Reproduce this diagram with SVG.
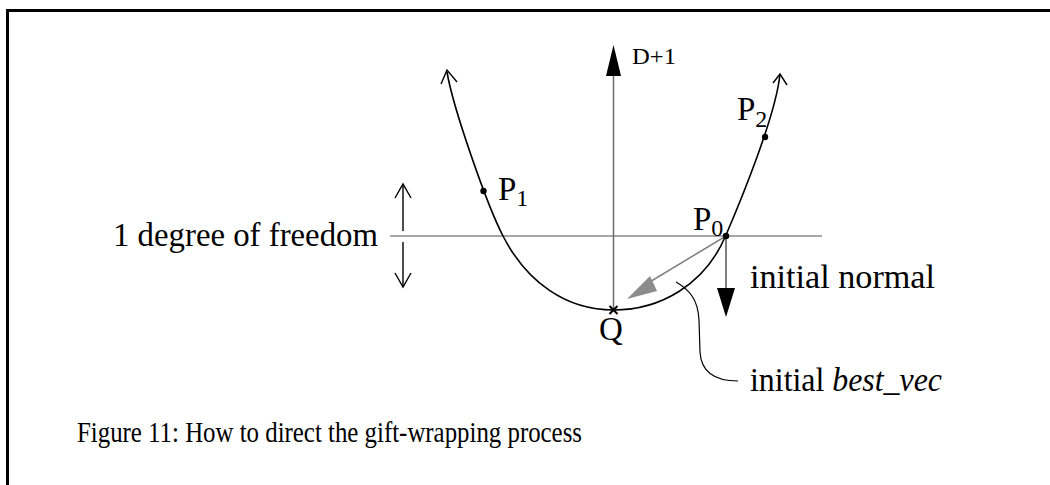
<svg xmlns="http://www.w3.org/2000/svg" width="1050" height="485" viewBox="0 0 1050 485">
<style>
text{font-family:"Liberation Serif","Times New Roman",serif;fill:#000}
.lbl{font-size:33px}
.sub{font-size:24px}
.cap{font-size:30px}
.small{font-size:23px}
.curve{fill:none;stroke:#000;stroke-width:1.6}
.open{fill:none;stroke:#000;stroke-width:1.4}
</style>
<rect x="7.5" y="10.5" width="1100" height="600" fill="#fff" stroke="#000" stroke-width="3"/>
<g id="connectors">
<line x1="390" y1="236" x2="822" y2="236" stroke="#8a8a8a" stroke-width="1.6"/>
<line x1="613.5" y1="74" x2="613.5" y2="310" stroke="#6a6a6a" stroke-width="1.5"/>
<polygon points="613.5,45 606,76 621,76" fill="#000"/>
<line x1="403" y1="184" x2="403" y2="231" class="open"/>
<line x1="403" y1="242" x2="403" y2="287" class="open"/>
<polyline points="395,198 403,184 411,198" class="open"/>
<polyline points="395,273 403,287 411,273" class="open"/>
<path class="curve" d="M447,72 C453,108 487,205 503,236 C527,282.5 566,310 613.5,310 C660,310 705,285 726,235 C741,200 776,115 780,74"/>
<polyline points="441,84 447,70 457,82" class="open"/>
<polyline points="773,83 780,74 787,85" class="open"/>
<line x1="726" y1="236" x2="648" y2="283" stroke="#808080" stroke-width="1.5"/>
<polygon points="627,299 650,276 657,291" fill="#8c8c8c"/>
<line x1="726" y1="236" x2="726" y2="289" stroke="#555" stroke-width="1.5"/>
<polygon points="717,288 735,288 726,317" fill="#000"/>
<path d="M676,282 C690,290 698,300 699,320 L700,352 C701,370 712,381 738,381" fill="none" stroke="#000" stroke-width="1.2"/>
</g>
<g id="axis-label"><text class="small" x="632" y="64" textLength="44" lengthAdjust="spacingAndGlyphs">D+1</text></g>
<g id="Q">
<path d="M609.5,306 L617.5,314 M617.5,306 L609.5,314" stroke="#000" stroke-width="2"/>
<text class="lbl" x="599" y="340">Q</text>
</g>
<g id="P0">
<circle cx="726" cy="236" r="3.2" fill="#000"/>
<text class="lbl" x="693" y="230">P<tspan class="sub" dy="6">0</tspan></text>
</g>
<g id="P1">
<circle cx="483.5" cy="191" r="3.2" fill="#000"/>
<text class="lbl" x="498" y="200">P<tspan class="sub" dy="6">1</tspan></text>
</g>
<g id="P2">
<circle cx="765" cy="137" r="3.2" fill="#000"/>
<text class="lbl" x="737" y="120">P<tspan class="sub" dy="7">2</tspan></text>
</g>
<g id="freedom"><text class="lbl" x="113" y="246" textLength="265" lengthAdjust="spacingAndGlyphs">1 degree of freedom</text></g>
<g id="normal"><text class="lbl" x="750" y="288" textLength="185" lengthAdjust="spacingAndGlyphs">initial normal</text></g>
<g id="bestvec"><text class="lbl" x="750" y="391" textLength="192" lengthAdjust="spacingAndGlyphs">initial <tspan font-style="italic">best_vec</tspan></text></g>
<g id="caption"><text class="cap" x="77" y="442" textLength="505" lengthAdjust="spacingAndGlyphs">Figure 11: How to direct the gift-wrapping process</text></g>
</svg>
